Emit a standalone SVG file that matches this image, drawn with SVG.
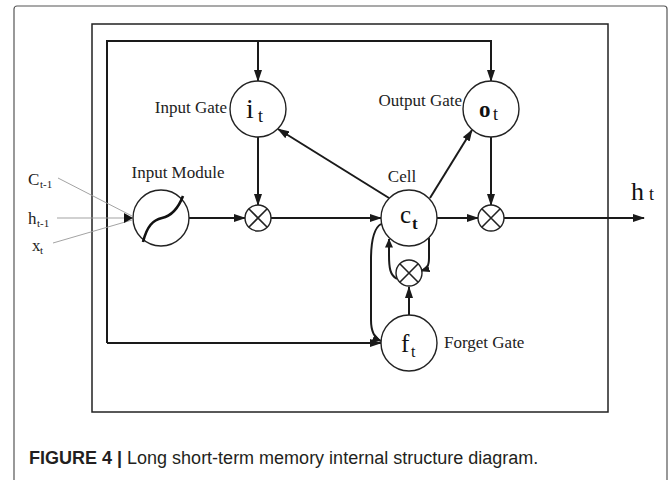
<svg xmlns="http://www.w3.org/2000/svg" width="670" height="480" viewBox="0 0 670 480">
<defs>
<style>
.lbl{font-family:"Liberation Serif","Times New Roman",serif;font-size:17px;fill:#222}
.mth{font-family:"Liberation Serif","Times New Roman",serif;fill:#111}
.inl{font-family:"Liberation Serif","Times New Roman",serif;font-size:17px;fill:#222}
.sub{font-family:"Liberation Serif","Times New Roman",serif;font-size:11px;fill:#222}
.node{fill:#fff;stroke:#222;stroke-width:1.4}
.x{stroke:#222;stroke-width:1.6}
.con{fill:none;stroke:#1a1a1a;stroke-width:2}
.thin{fill:none;stroke:#999;stroke-width:0.9}
.cap{font-family:"Liberation Sans",Arial,sans-serif;font-size:18px;fill:#231f20}
</style>
<marker id="arr" markerWidth="12" markerHeight="8" refX="11" refY="4" orient="auto" markerUnits="userSpaceOnUse"><path d="M0,0 L12,4 L0,8 z" fill="#1a1a1a"/></marker>
<marker id="arrs" markerWidth="9" markerHeight="8" refX="8.5" refY="4" orient="auto" markerUnits="userSpaceOnUse"><path d="M0,0 L9,4 L0,8 z" fill="#1a1a1a"/></marker>
</defs>
<rect x="0" y="0" width="670" height="480" fill="#fff"/>
<rect x="14" y="6" width="653" height="490" rx="3" fill="#fff" stroke="#555" stroke-width="1.2"/>
<rect x="92" y="24" width="516" height="388" fill="none" stroke="#222" stroke-width="1.5"/>

<g id="connectors">
<path class="con" d="M107 343 L107 41 L491 41 L491 81" marker-end="url(#arr)"/>
<path class="con" d="M258 41 L258 81" marker-end="url(#arr)"/>
<path class="con" d="M107 343 L381 343" marker-end="url(#arr)"/>
<path class="con" d="M258 137 L258 205" marker-end="url(#arr)"/>
<path class="con" d="M491 137 L491 205" marker-end="url(#arr)"/>
<path class="con" d="M189 218 L245 218" marker-end="url(#arr)"/>
<path class="con" d="M271 218 L381 218" marker-end="url(#arr)"/>
<path class="con" d="M437 218 L478 218" marker-end="url(#arr)"/>
<path class="con" d="M504 218 L644 218" marker-end="url(#arr)"/>
<path class="con" d="M389 198 L278 129" marker-end="url(#arr)"/>
<path class="con" d="M430 198 L472 130" marker-end="url(#arr)"/>
<path class="con" d="M409 315 L409 287" marker-end="url(#arr)"/>
<path class="con" d="M397 279 C390 275 389 268 389 255 L389 239" marker-end="url(#arrs)"/>
<path class="con" d="M429 238 L429 258 C429 266 427 269 421 271" marker-end="url(#arrs)"/>
<path class="con" d="M381 224 C374 228 371 240 371 260 L371 320 C371 332 374 338 381 341" marker-end="url(#arrs)"/>
<path class="thin" d="M58 178 L132 216"/>
<path class="thin" d="M57 218 L132 218"/>
<path class="thin" d="M53 243 L132 220"/>
<path d="M124 213 L133 218 L124 223 z" fill="#111"/>
</g>

<g id="input-module">
<circle class="node" cx="161" cy="218" r="28"/>
<path d="M143 242 C147 226 153 220 162 218 C171 216 178 209 183 196" fill="none" stroke="#111" stroke-width="2.6"/>
<text class="lbl" x="178" y="178" text-anchor="middle">Input Module</text>
</g>

<g id="input-gate">
<circle class="node" cx="258" cy="109" r="28"/>
<text class="mth" x="246" y="118" font-size="28">i</text>
<text class="mth" x="258" y="122" font-size="18">t</text>
<text class="lbl" x="227" y="113" text-anchor="end">Input Gate</text>
</g>

<g id="output-gate">
<circle class="node" cx="491" cy="109" r="28"/>
<text class="mth" x="479" y="117" font-size="23" font-weight="bold">o</text>
<text class="mth" x="493" y="120" font-size="18">t</text>
<text class="lbl" x="462" y="106" text-anchor="end">Output Gate</text>
</g>

<g id="cell">
<circle class="node" cx="409" cy="218" r="28"/>
<text class="mth" x="400" y="223" font-size="25">c</text>
<text class="mth" x="412" y="229" font-size="17" font-weight="bold">t</text>
<text class="lbl" x="402" y="182" text-anchor="middle">Cell</text>
</g>

<g id="forget-gate">
<circle class="node" cx="409" cy="343" r="28"/>
<text class="mth" x="401" y="352" font-size="25">f</text>
<text class="mth" x="411" y="357" font-size="16">t</text>
<text class="lbl" x="444" y="348">Forget Gate</text>
</g>

<g id="mult-input">
<circle class="node" cx="258" cy="218" r="13"/>
<path class="x" d="M248.8 208.8 L267.2 227.2 M267.2 208.8 L248.8 227.2"/>
</g>
<g id="mult-output">
<circle class="node" cx="491" cy="218" r="13"/>
<path class="x" d="M481.8 208.8 L500.2 227.2 M500.2 208.8 L481.8 227.2"/>
</g>
<g id="mult-forget">
<circle class="node" cx="409" cy="273" r="13"/>
<path class="x" d="M399.8 263.8 L418.2 282.2 M418.2 263.8 L399.8 282.2"/>
</g>

<g id="inputs">
<text class="inl" x="28" y="185">C</text><text class="sub" x="40" y="188">t-1</text>
<text class="inl" x="28" y="224">h</text><text class="sub" x="37" y="227">t-1</text>
<text class="inl" x="32" y="251">x</text><text class="sub" x="40" y="254">t</text>
</g>

<g id="output">
<text class="mth" x="631" y="200" font-size="26">h</text>
<text class="mth" x="649" y="200" font-size="18">t</text>
</g>

<text class="cap" x="29" y="464"><tspan font-weight="bold">FIGURE 4 | </tspan>Long short-term memory internal structure diagram.</text>
</svg>
